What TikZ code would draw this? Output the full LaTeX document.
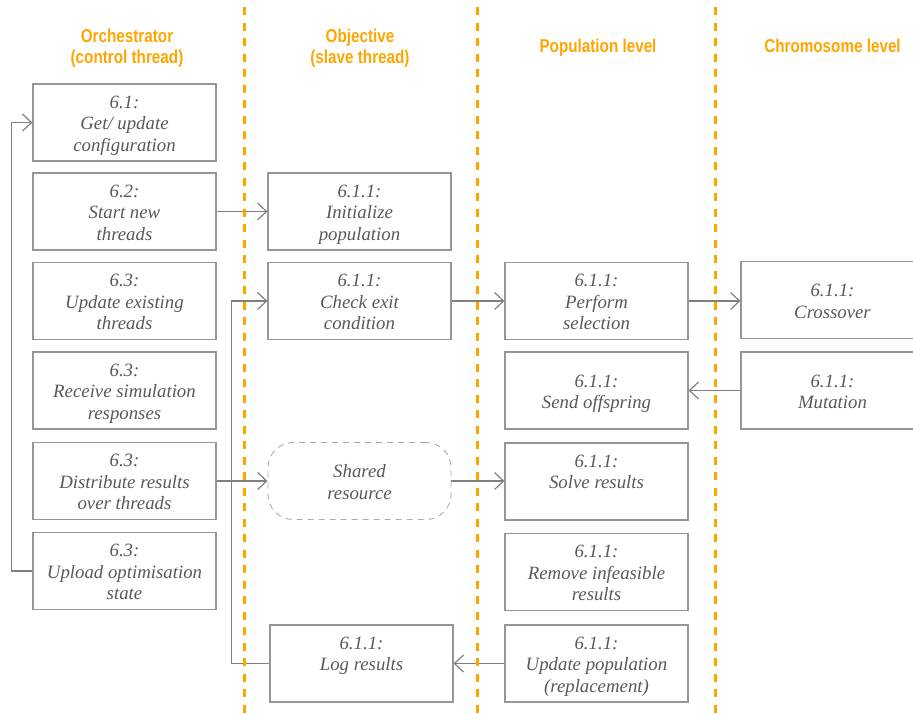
\documentclass[tikz,border=0pt]{standalone}
\usepackage{fontspec}
\setmainfont{Liberation Serif}
\newfontfamily\hdrfont[FakeStretch=0.82]{Liberation Sans}
\usetikzlibrary{arrows.meta}
\definecolor{lane}{RGB}{255,165,0}
\definecolor{ink}{RGB}{88,88,88}
\definecolor{frame}{RGB}{150,150,150}
\definecolor{wire}{RGB}{128,128,128}
% fixed room above the first line of a step, so its text sits a little low
\newcommand\stepgap{\rule{0pt}{21pt}}
\begin{document}
\begin{tikzpicture}[x=1pt,y=-1pt,
  stepbox/.style={draw=frame, line width=1.2pt, minimum width=183pt,
    minimum height=77pt, inner sep=0pt, align=center, text=ink,
    font=\fontsize{18.8}{21.5}\selectfont\itshape},
  sharedbox/.style={stepbox, draw=frame!80, line width=0.9pt,
    dash pattern=on 6pt off 5pt, rounded corners=25pt},
  header/.style={anchor=base, text=lane,
    font=\hdrfont\bfseries\fontsize{18.6}{21}\selectfont},
  wire/.style={draw=wire, line width=1.2pt,
    -{Straight Barb[length=9pt,width=17pt,line width=1.2pt]}},
  lanesep/.style={draw=lane, line width=3pt, dash pattern=on 8pt off 7.5pt}
]
\useasboundingbox (0,0) rectangle (913,713);
\clip (0,0) rectangle (913,713);

% column headings
\node[header] (hOrchA) at (127,42) {Orchestrator};
\node[header] (hOrchB) at (127,63) {(control thread)};
\node[header] (hObjA) at (360,42) {Objective};
\node[header] (hObjB) at (360,63) {(slave thread)};
\node[header] (hPop) at (598,52.5) {Population level};
\node[header] (hChr) at (832.5,52.5) {Chromosome level};

% orchestrator (control thread)
\node[stepbox] (config)  at (124.5,122.5) {\stepgap 6.1:\\Get/ update\\configuration\strut};
\node[stepbox] (start)   at (124.5,211.5) {\stepgap 6.2:\\Start new\\threads\strut};
\node[stepbox] (updthr)  at (124.5,301)   {\stepgap 6.3:\\Update existing\\threads\strut};
\node[stepbox] (receive) at (124.5,390.5) {\stepgap 6.3:\\Receive simulation\\responses\strut};
\node[stepbox] (distrib) at (124.5,481)   {\stepgap 6.3:\\Distribute results\\over threads\strut};
\node[stepbox] (upload)  at (124.5,571)   {\stepgap 6.3:\\Upload optimisation\\state\strut};

% objective (slave thread)
\node[stepbox] (init)   at (359.5,211.5) {\stepgap 6.1.1:\\Initialize\\population\strut};
\node[stepbox] (check)  at (359.5,301)   {\stepgap 6.1.1:\\Check exit\\condition\strut};
\node[sharedbox] (shared) at (359.5,481) {\stepgap Shared\\resource\strut};
\node[stepbox] (logres) at (361.5,663.5) {\stepgap 6.1.1:\\Log results\\\strut};

% population level
\node[stepbox] (select)    at (596.5,301)   {\stepgap 6.1.1:\\Perform\\selection\strut};
\node[stepbox] (offspring) at (596.5,390.5) {\stepgap 6.1.1:\\Send offspring\strut};
\node[stepbox] (solve)     at (596.5,481.5) {\stepgap 6.1.1:\\Solve results\\\strut};
\node[stepbox] (remove)    at (596.5,572)   {\stepgap 6.1.1:\\Remove infeasible\\results\strut};
\node[stepbox] (updpop)    at (596.5,663.5) {\stepgap 6.1.1:\\Update population\\(replacement)\strut};

% chromosome level
\node[stepbox] (cross)    at (832.5,300)   {\stepgap 6.1.1:\\Crossover\strut};
\node[stepbox] (mutation) at (832.5,390.5) {\stepgap 6.1.1:\\Mutation\strut};

% connectors
\draw[wire] (upload.west) -- ++(-21,0) |- (config.west);
\draw[wire] (start.east) -- (init.west);
\draw[wire] (logres.west) -- ++(-38,0) |- (check.west);
\draw[wire] (distrib.east) -- (shared.west);
\draw[wire] (check.east) -- (select.west);
\draw[wire] (select.east) -- (select.east -| cross.west);
\draw[wire] (mutation.west) -- (offspring.east);
\draw[wire] (shared.east) -- (shared.east -| solve.west);
\draw[wire] (updpop.west) -- (logres.east);

% lane separators
\coordinate (s1t) at (244,7);   \coordinate (s1b) at (244,713);
\coordinate (s2t) at (477,7);   \coordinate (s2b) at (477,713);
\coordinate (s3t) at (715,7);   \coordinate (s3b) at (715,713);
\draw[lanesep] (s1t) -- (s1b);
\draw[lanesep] (s2t) -- (s2b);
\draw[lanesep] (s3t) -- (s3b);
\end{tikzpicture}
\end{document}
